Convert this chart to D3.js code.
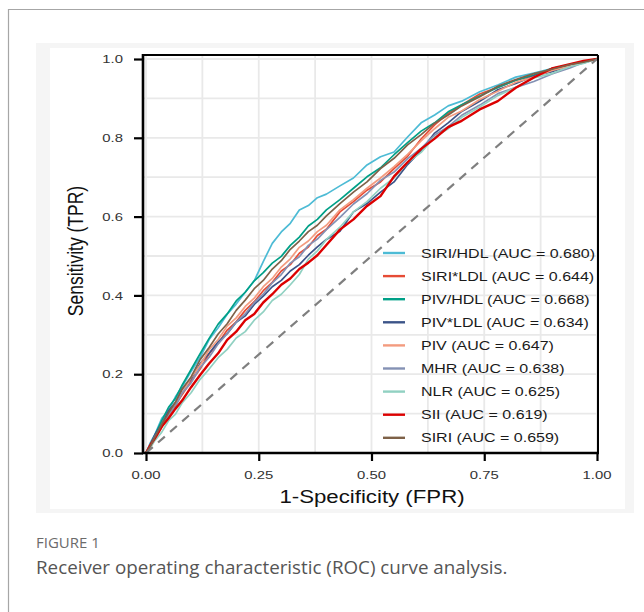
<!DOCTYPE html>
<html>
<head>
<meta charset="utf-8">
<script src="https://cdn.jsdelivr.net/npm/d3@7"></script>
<style>
  html, body { margin: 0; padding: 0; background: #fff; }
  svg { display: block; }
</style>
</head>
<body>
<svg id="chart" width="644" height="612"></svg>
<script>
(function () {
  "use strict";

  // shared false-positive-rate grid
  var fpr = [0, .01, .02, .035, .05, .065, .08, .10, .12, .14, .16, .18, .20, .22, .24, .26, .28, .30, .32, .34,
    .36, .38, .40, .43, .46, .49, .52, .55, .58, .61, .64, .67, .70, .74, .78, .82, .86, .90, .94, .97, 1];

  var siriHdl = [0, .027, .048, .088, .108, .142, .168, .207, .243, .288, .318, .352, .378, .408, .437, .486, .532, .561, .583, .617,
    .628, .648, .657, .678, .698, .731, .752, .764, .802, .838, .858, .881, .893, .917, .934, .954, .964, .976, .985, .993, 1];
  var siriLdl = [0, .016, .036, .066, .093, .122, .148, .182, .213, .252, .278, .312, .333, .362, .384, .412, .433, .462, .478, .507,
    .523, .552, .568, .612, .638, .667, .688, .722, .753, .797, .833, .862, .883, .911, .928, .946, .958, .973, .983, .992, 1];
  var pivHdl = [0, .022, .046, .082, .116, .138, .172, .212, .252, .291, .327, .353, .386, .408, .437, .458, .482, .499, .527, .548,
    .576, .593, .617, .643, .672, .701, .724, .757, .788, .817, .838, .866, .884, .906, .928, .946, .959, .976, .984, .993, 1];
  var pivLdl = [0, .022, .047, .073, .107, .128, .162, .188, .227, .253, .282, .303, .332, .348, .377, .398, .422, .438, .462, .478,
    .502, .523, .542, .563, .612, .633, .662, .688, .732, .768, .812, .838, .867, .893, .922, .938, .957, .968, .983, .99, 1];
  var piv = [0, .021, .038, .072, .098, .127, .153, .192, .223, .262, .288, .322, .343, .372, .393, .422, .443, .472, .493, .522,
    .538, .562, .578, .617, .643, .672, .698, .727, .758, .792, .823, .852, .868, .897, .918, .941, .954, .971, .982, .991, 1];
  var mhr = [0, .019, .042, .068, .097, .118, .152, .178, .217, .243, .277, .303, .332, .353, .382, .403, .432, .453, .482, .498,
    .527, .543, .567, .598, .632, .658, .692, .713, .747, .773, .807, .828, .857, .883, .912, .928, .943, .962, .977, .991, 1];
  var nlr = [0, .014, .032, .053, .082, .098, .127, .153, .187, .213, .242, .263, .292, .308, .337, .358, .387, .403, .427, .453,
    .492, .513, .542, .573, .612, .638, .672, .698, .737, .763, .802, .823, .852, .878, .907, .928, .952, .963, .981, .989, 1];
  var sii = [0, .021, .038, .067, .088, .112, .133, .167, .198, .227, .253, .287, .308, .337, .353, .382, .403, .427, .443, .467,
    .483, .502, .528, .567, .593, .627, .652, .702, .738, .772, .798, .827, .843, .872, .893, .927, .953, .976, .987, .995, 1];
  var siri = [0, .018, .041, .073, .102, .128, .162, .193, .237, .268, .302, .328, .362, .388, .417, .438, .467, .488, .517, .538,
    .562, .578, .602, .633, .662, .688, .722, .748, .782, .808, .837, .858, .881, .904, .931, .948, .963, .974, .986, .992, 1];

  var names = ["SIRI/HDL", "SIRI*LDL", "PIV/HDL", "PIV*LDL", "PIV", "MHR", "NLR", "SII", "SIRI"];
  var aucs = ["0.680", "0.644", "0.668", "0.634", "0.647", "0.638", "0.625", "0.619", "0.659"];
  var tprs = [siriHdl, siriLdl, pivHdl, pivLdl, piv, mhr, nlr, sii, siri];
  var xTicks = [0, 0.25, 0.5, 0.75, 1];
  var yTicks = [0, 0.2, 0.4, 0.6, 0.8, 1];

  var colors = ["#4DBBD5", "#E64B35", "#00A087", "#3C5488", "#F39B7F", "#8491B4", "#91D1C2", "#DC0000", "#7E6148"];

  var svg = d3.select("#chart");
  var font = "'Liberation Sans', Arial, sans-serif";
  var capFont = "'Open Sans', 'Noto Sans', sans-serif";
  var sx = 1.27; // the figure is stretched sideways

  function addText(parent, tx, ty, str, size, anchor, rotate) {
    var t = "translate(" + tx + "," + ty + ") scale(" + sx + ",1)" + (rotate ? " rotate(" + rotate + ")" : "");
    return parent.append("text")
      .attr("transform", t)
      .attr("text-anchor", anchor)
      .style("font-family", font)
      .style("font-size", size + "px")
      .text(str);
  }

  // page frame
  svg.append("line").attr("x1", 8).attr("x2", 644).attr("y1", 9.5).attr("y2", 9.5)
    .attr("stroke", "#a6a6a6").attr("stroke-width", 1.2);
  svg.append("line").attr("x1", 8.5).attr("x2", 8.5).attr("y1", 9).attr("y2", 612)
    .attr("stroke", "#a6a6a6").attr("stroke-width", 1.2);

  // figure background
  svg.append("rect").attr("x", 36).attr("y", 43).attr("width", 598).attr("height", 470).attr("fill", "#f5f5f5");
  svg.append("rect").attr("x", 50).attr("y", 48).attr("width", 575).attr("height", 461).attr("fill", "#ffffff");

  var panel = { left: 143, right: 598, top: 55, bottom: 453 };
  var x = d3.scaleLinear().domain([0, 1]).range([146, 597]);
  var y = d3.scaleLinear().domain([0, 1]).range([453, 59]);

  // grid
  var grid = svg.append("g");
  var xGrid = d3.range(0, 1.0001, 0.125);
  var yGrid = d3.range(0, 1.0001, 0.1);
  grid.selectAll(".gx").data(xGrid).enter().append("line")
    .attr("x1", function (d) { return x(d); }).attr("x2", function (d) { return x(d); })
    .attr("y1", panel.top).attr("y2", panel.bottom)
    .attr("stroke", "#e9e9e9").attr("stroke-width", 1.8);
  grid.selectAll(".gy").data(yGrid).enter().append("line")
    .attr("y1", function (d) { return y(d); }).attr("y2", function (d) { return y(d); })
    .attr("x1", panel.left).attr("x2", panel.right)
    .attr("stroke", "#e9e9e9").attr("stroke-width", 1.8);

  // curves
  var line = d3.line()
    .x(function (d) { return x(d[0]); })
    .y(function (d) { return y(d[1]); });

  var curves = svg.append("g").attr("fill", "none").attr("stroke-linejoin", "round");
  tprs.forEach(function (tpr, i) {
    var pts = fpr.map(function (f, j) { return [f, tpr[j]]; });
    curves.append("path")
      .attr("d", line(pts))
      .attr("stroke", colors[i])
      .attr("stroke-width", names[i] === "SII" ? 2.4 : 1.7);
  });

  // chance line
  svg.append("line")
    .attr("x1", x(0)).attr("y1", y(0)).attr("x2", x(1)).attr("y2", y(1))
    .attr("stroke", "#7f7f7f").attr("stroke-width", 2.2).attr("stroke-dasharray", "9,7");

  // panel border
  svg.append("line").attr("x1", panel.left).attr("x2", panel.right).attr("y1", panel.top).attr("y2", panel.top)
    .attr("stroke", "#000").attr("stroke-width", 2);
  svg.append("line").attr("x1", panel.right).attr("x2", panel.right).attr("y1", panel.top).attr("y2", panel.bottom)
    .attr("stroke", "#000").attr("stroke-width", 2);

  // axes (ticks from d3, labels stretched like the original)
  var xAxis = d3.axisBottom(x).tickValues(xTicks).tickFormat("").tickSize(8).tickSizeOuter(0);
  var yAxis = d3.axisLeft(y).tickValues(yTicks).tickFormat("").tickSize(9).tickSizeOuter(0);

  var gx = svg.append("g").attr("transform", "translate(0," + panel.bottom + ")").call(xAxis);
  var gy = svg.append("g").attr("transform", "translate(" + panel.left + ",0)").call(yAxis);
  [gx, gy].forEach(function (g) {
    g.select(".domain").remove();
    g.selectAll(".tick line").attr("stroke", "#000").attr("stroke-width", 2.2);
  });

  var labels = svg.append("g").attr("fill", "#333");
  xTicks.forEach(function (v) {
    addText(labels, x(v), 479, d3.format(".2f")(v), 11.7, "middle");
  });
  yTicks.forEach(function (v) {
    addText(labels, 123, y(v) + 4.2, d3.format(".1f")(v), 11.7, "end");
  });

  svg.append("line").attr("x1", panel.left).attr("x2", panel.left).attr("y1", panel.top - 1).attr("y2", panel.bottom + 1)
    .attr("stroke", "#000").attr("stroke-width", 2.6);
  svg.append("line").attr("x1", panel.left - 1).attr("x2", panel.right + 1).attr("y1", panel.bottom).attr("y2", panel.bottom)
    .attr("stroke", "#000").attr("stroke-width", 2.6);

  // axis titles
  addText(svg, 372, 503, "1-Specificity (FPR)", 17.5, "middle").attr("fill", "#111");
  addText(svg, 83, 251, "Sensitivity (TPR)", 17.5, "middle", -90).attr("fill", "#111");

  // legend
  var legend = svg.append("g");
  names.forEach(function (n, i) {
    var ly = 253 + i * 23.1;
    legend.append("line").attr("x1", 383).attr("x2", 405).attr("y1", ly).attr("y2", ly)
      .attr("stroke", colors[i]).attr("stroke-width", 2.4);
    addText(legend, 421, ly + 4.6, n + " (AUC = " + aucs[i] + ")", 12.6, "start").attr("fill", "#1a1a1a");
  });

  // caption
  svg.append("text").attr("x", 36).attr("y", 548)
    .style("font-family", capFont).style("font-size", "15px").attr("fill", "#6b6b6b")
    .text("FIGURE 1");
  svg.append("text").attr("x", 36).attr("y", 574)
    .style("font-family", capFont).style("font-size", "18.8px").attr("fill", "#555")
    .text("Receiver operating characteristic (ROC) curve analysis.");
}());
</script>
</body>
</html>
